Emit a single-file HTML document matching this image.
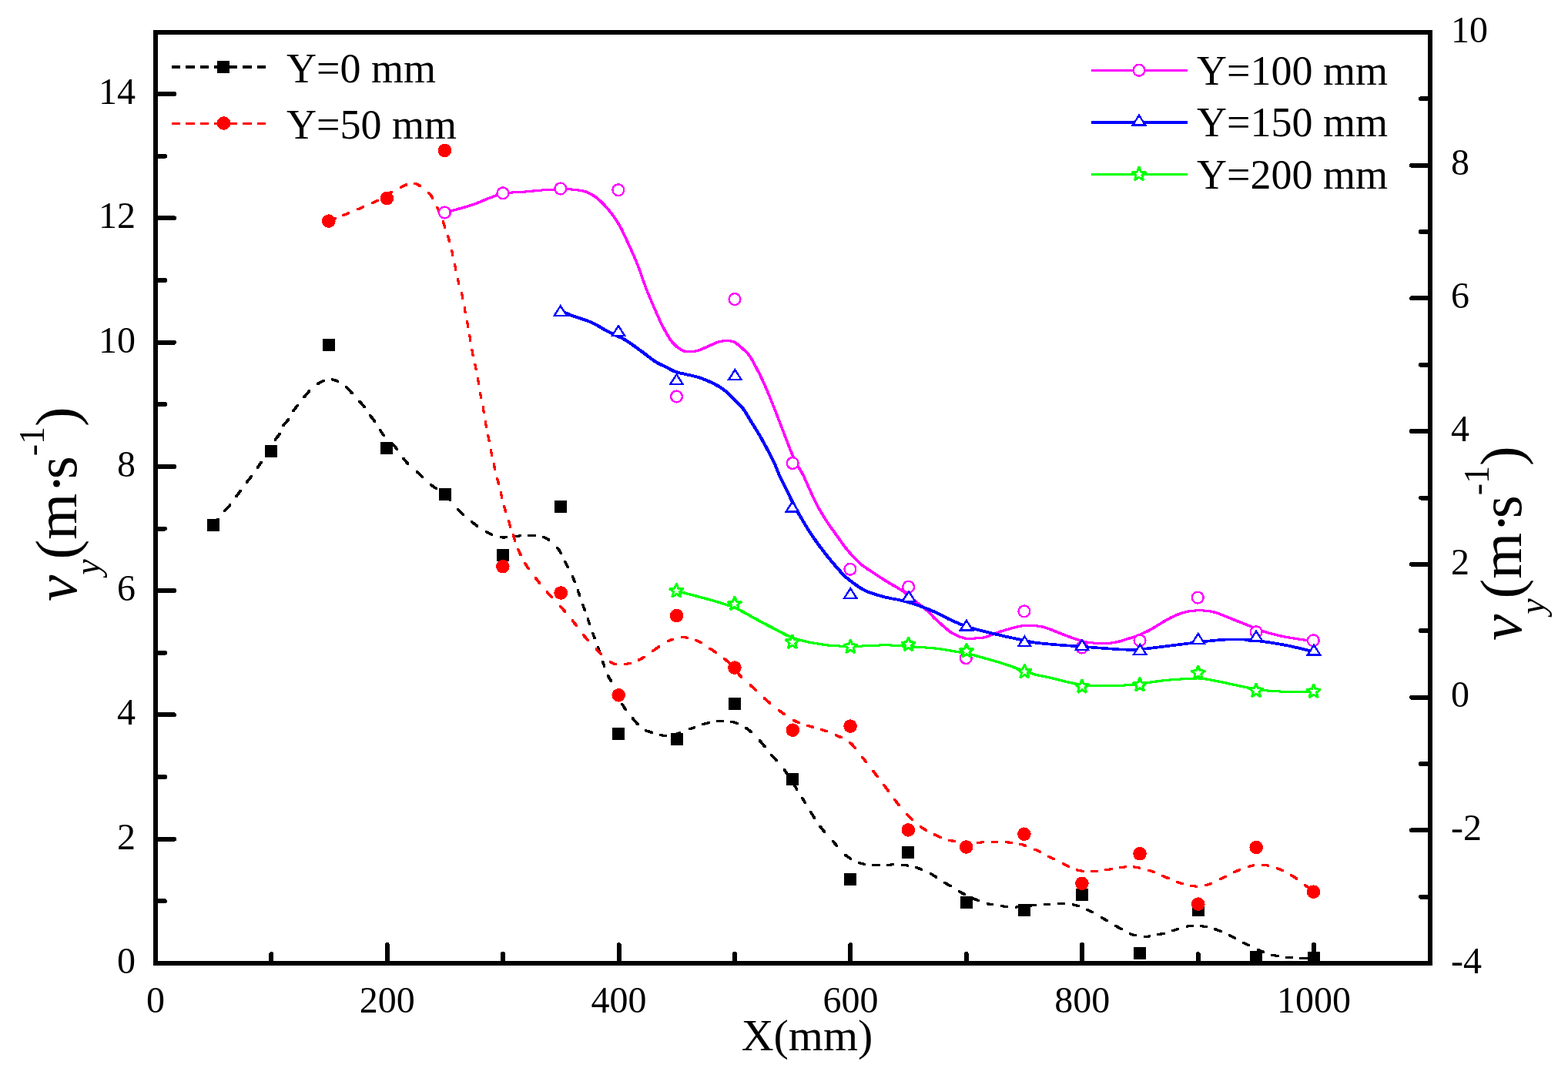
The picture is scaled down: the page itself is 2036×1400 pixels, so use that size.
<!DOCTYPE html>
<html><head><meta charset="utf-8"><title>chart</title>
<style>html,body{margin:0;padding:0;background:#fff;}svg{display:block;}</style></head>
<body><svg width="2036" height="1400" viewBox="0 0 2036 1400">
<rect width="2036" height="1400" fill="#fff"/>
<g stroke="#000" stroke-width="6" fill="none" stroke-linecap="butt" shape-rendering="crispEdges">
<rect x="202" y="42" width="1655" height="1209"/>
<path stroke-linecap="round" d="M202 1170.4h12 M202 1089.7h24 M202 1009.1h12 M202 928.4h24 M202 847.8h12 M202 767.2h24 M202 686.5h12 M202 605.9h24 M202 525.2h12 M202 444.6h24 M202 364.0h12 M202 283.3h24 M202 202.7h12 M202 122.0h24 M1857 1164.6h-12 M1857 1078.3h-24 M1857 991.9h-12 M1857 905.6h-24 M1857 819.2h-12 M1857 732.8h-24 M1857 646.5h-12 M1857 560.1h-24 M1857 473.8h-12 M1857 387.4h-24 M1857 301.0h-12 M1857 214.7h-24 M1857 128.3h-12 M352.4 1251v-12 M502.8 1251v-24 M653.2 1251v-12 M803.6 1251v-24 M954.0 1251v-12 M1104.4 1251v-24 M1254.8 1251v-12 M1405.2 1251v-24 M1555.6 1251v-12 M1706.0 1251v-24"/>
</g>
<g font-family="'Liberation Serif','Times New Roman',serif" font-size="48" fill="#000">
<text x="176" y="1264.0" text-anchor="end">0</text>
<text x="176" y="1102.7" text-anchor="end">2</text>
<text x="176" y="941.4" text-anchor="end">4</text>
<text x="176" y="780.2" text-anchor="end">6</text>
<text x="176" y="618.9" text-anchor="end">8</text>
<text x="176" y="457.6" text-anchor="end">10</text>
<text x="176" y="296.3" text-anchor="end">12</text>
<text x="176" y="135.0" text-anchor="end">14</text>
<text x="202.0" y="1315" text-anchor="middle">0</text>
<text x="502.8" y="1315" text-anchor="middle">200</text>
<text x="803.6" y="1315" text-anchor="middle">400</text>
<text x="1104.4" y="1315" text-anchor="middle">600</text>
<text x="1405.2" y="1315" text-anchor="middle">800</text>
<text x="1706.0" y="1315" text-anchor="middle">1000</text>
<text x="1884" y="1263.7">-4</text>
<text x="1884" y="1091.0">-2</text>
<text x="1884" y="918.3">0</text>
<text x="1884" y="745.5">2</text>
<text x="1884" y="572.8">4</text>
<text x="1884" y="400.1">6</text>
<text x="1884" y="227.4">8</text>
<text x="1884" y="54.7">10</text>
</g>
<text font-family="'Liberation Serif','Times New Roman',serif" font-size="58" x="1048" y="1364" text-anchor="middle">X(mm)</text>
<text font-family="'Liberation Serif','Times New Roman',serif" font-size="77" transform="translate(99 781) rotate(-90)" x="0" y="0"><tspan font-style="italic">v</tspan><tspan font-style="italic" font-size="46" dy="30">y</tspan><tspan dy="-30">(m·</tspan><tspan dx="-7">s</tspan><tspan font-size="46" dy="-42">-1</tspan><tspan dy="42">)</tspan></text>
<text font-family="'Liberation Serif','Times New Roman',serif" font-size="77" transform="translate(1975 832) rotate(-90)" x="0" y="0"><tspan font-style="italic">v</tspan><tspan font-style="italic" font-size="46" dy="30">y</tspan><tspan dy="-30">(m·</tspan><tspan dx="-7">s</tspan><tspan font-size="46" dy="-42">-1</tspan><tspan dy="42">)</tspan></text>
<defs><filter id="dl" filterUnits="userSpaceOnUse" x="0" y="0" width="2036" height="1400"><feMorphology operator="dilate" radius="1"/></filter></defs>
<path d="M277.0 682.5 L277.3 682.1 L278.5 680.6 L280.0 678.6 L281.7 676.3 L283.6 673.9 M291.7 663.7 L292.1 663.2 L293.3 661.9 L294.4 660.7 L295.4 659.6 L296.4 658.5 L297.3 657.5 L298.3 656.4 L299.2 655.3 M306.5 645.4 L306.8 644.9 L307.8 643.6 L308.7 642.2 L309.7 640.8 L310.7 639.4 L311.6 638.1 L312.5 636.8 M319.9 626.8 L320.2 626.5 L321.1 625.3 L322.1 624.1 L323.0 622.9 L324.0 621.7 L324.9 620.5 L325.8 619.4 L326.7 618.2 M334.0 608.1 L334.3 607.8 L335.0 606.6 L335.7 605.5 L336.4 604.3 L337.2 603.1 L338.2 601.7 L339.3 600.3 L339.7 599.8 M349.3 589.6 L349.8 589.0 L351.2 587.2 L352.3 585.4 L353.2 583.6 L353.8 581.9 L354.0 581.3 M357.1 571.2 L357.4 570.8 L358.2 569.7 L359.0 568.7 L359.9 567.7 L360.8 566.8 L361.6 565.8 L362.3 564.7 L363.0 563.6 L363.4 562.8 M367.8 552.8 L368.1 552.4 L369.0 551.2 L370.0 550.1 L371.1 548.9 L372.1 547.7 L373.1 546.6 L374.0 545.4 L374.9 544.2 M380.5 534.3 L380.7 533.9 L381.5 532.8 L382.3 531.7 L383.1 530.7 L383.9 529.7 L384.7 528.6 L385.5 527.5 L386.4 526.4 L386.7 526.0 M394.7 516.0 L395.0 515.6 L396.1 514.3 L397.1 513.0 L398.2 511.8 L399.3 510.5 L400.4 509.3 L401.4 508.1 L402.1 507.4 M412.2 498.8 L412.6 498.6 L413.8 497.8 L415.0 497.1 L416.3 496.4 L417.5 495.7 L418.7 495.1 L419.9 494.6 L420.7 494.3 M430.9 492.8 L431.3 492.8 L432.5 493.1 L433.7 493.4 L434.9 493.8 L436.1 494.2 L437.4 494.7 L438.6 495.2 L439.0 495.4 M449.3 502.4 L449.7 502.8 L450.8 503.8 L451.8 504.8 L452.9 505.9 L453.9 507.0 L454.9 508.1 L455.9 509.3 L457.0 510.4 L457.4 510.8 M466.4 520.7 L466.7 521.1 L467.7 522.2 L468.6 523.3 L469.6 524.3 L470.5 525.3 L471.4 526.4 L472.3 527.5 L473.2 528.6 L473.5 529.0 M480.2 539.0 L480.5 539.4 L481.4 540.6 L482.3 541.7 L483.3 542.9 L484.2 544.1 L485.2 545.3 L486.1 546.5 L486.7 547.4 M493.1 557.8 L493.3 558.2 L494.1 559.3 L494.7 560.3 L495.3 561.2 L495.8 562.0 L496.4 562.9 L497.1 563.8 L497.9 564.8 L498.9 566.0 M509.3 576.1 L509.9 576.7 L511.7 578.7 L513.5 580.7 L515.1 582.8 L516.2 584.3 M523.4 594.7 L524.0 595.5 L525.8 597.8 L527.8 600.1 L530.0 602.3 M540.7 612.3 L541.5 612.9 L543.8 615.0 L546.0 617.1 L548.2 619.1 L549.0 619.8 M559.2 629.1 L559.9 629.7 L562.0 631.4 L564.0 632.9 L566.0 634.2 L567.2 635.0 M577.8 642.4 L578.5 643.1 L580.9 645.5 L583.3 648.2 L585.0 650.1 M594.3 660.9 L595.1 661.8 L597.5 664.3 L599.7 666.5 L601.9 668.6 M612.4 677.6 L613.1 678.1 L615.4 679.9 L617.7 681.6 L620.1 683.4 M630.8 690.4 L631.6 690.9 L634.0 692.1 L636.3 693.2 L638.6 694.2 L639.3 694.5 M649.8 697.6 L650.6 697.7 L652.9 698.0 L655.3 698.0 L657.7 697.9 M668.2 696.5 L669.0 696.4 L671.4 696.2 L673.8 696.0 L676.2 695.8 M686.4 695.2 L687.1 695.2 L689.4 695.3 L691.7 695.4 L694.0 695.5 L694.7 695.5 M704.9 697.2 L705.7 697.5 L707.8 698.4 L710.0 699.6 L712.2 700.9 L712.9 701.4 M723.3 710.8 L723.9 711.6 L725.6 713.8 L727.2 716.3 L728.7 719.0 M733.6 729.3 L734.0 730.2 L735.3 732.8 L736.5 735.2 L737.7 737.4 M743.0 747.7 L743.3 748.4 L744.3 750.7 L745.3 753.1 L746.3 755.6 M750.0 766.0 L750.3 766.8 L751.2 769.4 L752.1 771.8 L752.9 774.2 M756.6 784.8 L756.9 785.5 L757.7 787.8 L758.5 790.1 L759.3 792.3 L759.5 793.1 M763.0 803.0 L763.3 803.7 L764.1 806.0 L764.9 808.3 L765.7 810.5 L765.9 811.3 M769.7 821.9 L769.9 822.7 L770.7 824.9 L771.5 827.2 L772.4 829.5 M776.2 840.3 L776.5 841.1 L777.3 843.3 L778.0 845.4 L778.7 847.5 L778.9 848.1 M782.3 858.6 L782.6 859.3 L783.3 861.4 L784.1 863.6 L784.9 865.9 L785.2 866.6 M789.3 877.1 L789.6 877.7 L790.4 879.2 L791.1 880.6 L791.9 881.8 L792.7 883.0 L793.5 884.2 L794.3 885.4 M799.8 895.8 L800.2 896.5 L801.1 898.4 L802.1 900.4 L802.9 902.2 L803.7 903.9 M807.6 913.9 L807.9 914.5 L809.0 916.3 L810.3 918.4 L811.9 920.6 L813.0 922.1 M821.2 932.5 L821.7 933.2 L823.3 935.2 L825.0 937.1 L826.7 939.1 L828.4 940.9 M838.4 948.9 L838.7 948.9 L839.6 949.1 L840.9 949.4 L842.5 950.0 L844.5 950.7 L846.7 951.4 M857.3 954.6 L858.1 954.8 L860.3 955.1 L862.3 955.3 L864.3 955.3 L864.9 955.4 M875.7 953.9 L876.5 953.7 L879.0 953.0 L881.7 952.1 L883.5 951.5 M894.5 947.3 L895.4 947.0 L897.9 946.1 L900.3 945.2 L901.9 944.7 M912.3 940.9 L913.0 940.7 L915.3 940.0 L917.6 939.4 L919.9 938.8 L920.6 938.6 M931.3 936.5 L932.1 936.4 L934.4 936.3 L936.6 936.2 L938.9 936.1 M949.5 937.2 L950.3 937.4 L952.6 938.0 L954.9 938.7 L957.2 939.6 L957.9 939.9 M967.8 945.0 L968.6 945.4 L970.7 946.9 L972.8 948.5 L974.9 950.3 L976.3 951.5 M986.2 961.6 L986.9 962.3 L988.8 964.5 L990.7 966.8 L992.6 969.1 L993.2 969.9 M1001.4 980.0 L1002.0 980.7 L1004.0 982.9 L1005.9 985.1 L1007.9 987.2 L1008.6 988.0 M1017.9 998.9 L1018.4 999.7 L1020.1 1002.1 L1021.7 1004.5 L1023.3 1006.9 M1029.8 1017.1 L1030.3 1017.9 L1031.6 1020.0 L1032.9 1022.1 L1034.2 1024.2 L1035.1 1025.5 M1041.5 1036.1 L1042.0 1036.9 L1043.6 1039.6 L1045.2 1042.3 L1045.8 1043.2 M1052.4 1054.1 L1052.9 1055.0 L1054.5 1057.5 L1056.1 1060.0 L1057.6 1062.5 M1064.6 1072.8 L1065.1 1073.5 L1066.9 1075.8 L1068.7 1078.0 L1070.5 1080.1 L1071.1 1080.8 M1080.7 1091.4 L1081.3 1092.1 L1083.3 1094.5 L1085.3 1096.9 L1087.2 1099.3 M1096.8 1109.6 L1097.5 1110.2 L1099.7 1111.9 L1101.9 1113.5 L1104.2 1115.0 L1104.9 1115.4 M1115.0 1120.3 L1115.8 1120.6 L1118.2 1121.3 L1120.5 1121.9 L1123.0 1122.4 M1133.5 1123.5 L1134.3 1123.6 L1136.7 1123.7 L1139.2 1123.7 L1141.6 1123.7 M1152.1 1123.1 L1152.8 1123.1 L1155.1 1123.1 L1157.3 1123.0 L1159.4 1122.9 L1160.1 1122.9 M1170.7 1123.1 L1171.5 1123.2 L1173.8 1123.4 L1176.2 1123.8 L1178.6 1124.1 M1189.2 1126.6 L1190.0 1126.8 L1192.4 1127.6 L1194.9 1128.5 L1197.3 1129.5 M1207.8 1134.5 L1208.5 1134.9 L1210.8 1136.1 L1213.0 1137.4 L1215.1 1138.7 L1215.8 1139.1 M1226.4 1146.0 L1227.2 1146.5 L1229.5 1147.9 L1231.9 1149.5 L1234.4 1151.0 M1244.9 1157.5 L1245.7 1157.9 L1248.0 1159.2 L1250.3 1160.4 L1252.6 1161.6 M1263.0 1166.5 L1263.7 1166.8 L1265.8 1167.7 L1267.8 1168.6 L1269.7 1169.5 L1271.0 1170.1 M1281.6 1173.6 L1282.4 1173.8 L1285.0 1174.3 L1287.6 1174.8 L1289.4 1175.1 M1300.1 1176.6 L1300.9 1176.7 L1303.3 1177.0 L1305.7 1177.3 L1308.1 1177.5 M1318.9 1178.0 L1319.7 1178.0 L1322.1 1177.9 L1324.4 1177.7 L1326.8 1177.5 M1337.0 1176.2 L1337.8 1176.1 L1340.2 1175.9 L1342.5 1175.6 L1344.9 1175.4 M1355.8 1174.5 L1356.6 1174.5 L1359.0 1174.3 L1361.4 1174.1 L1363.8 1174.0 M1374.0 1173.6 L1374.8 1173.6 L1377.1 1173.6 L1379.3 1173.6 L1381.4 1173.7 L1382.2 1173.7 M1392.9 1174.7 L1393.6 1174.9 L1395.8 1175.4 L1398.1 1176.1 L1400.3 1176.8 L1401.0 1177.1 M1410.9 1181.2 L1411.7 1181.5 L1414.0 1182.6 L1416.3 1183.8 L1418.7 1185.0 L1419.5 1185.5 M1429.7 1191.3 L1430.5 1191.7 L1432.9 1193.0 L1435.2 1194.4 L1437.6 1195.8 M1447.9 1201.8 L1448.6 1202.3 L1450.9 1203.6 L1453.2 1205.0 L1455.5 1206.4 L1456.3 1206.9 M1466.7 1212.6 L1467.5 1212.9 L1469.7 1213.7 L1472.0 1214.4 L1474.2 1214.9 L1475.0 1215.1 M1485.5 1216.3 L1486.3 1216.3 L1488.6 1216.2 L1490.9 1216.1 L1493.3 1215.8 M1503.6 1213.9 L1504.4 1213.7 L1506.8 1213.2 L1509.1 1212.6 L1511.5 1212.0 M1522.4 1208.7 L1523.2 1208.5 L1525.6 1207.8 L1527.9 1207.0 L1530.3 1206.2 M1540.6 1203.3 L1541.3 1203.1 L1543.6 1202.8 L1545.9 1202.5 L1548.2 1202.3 L1549.0 1202.3 M1559.4 1202.6 L1560.2 1202.7 L1562.4 1203.0 L1564.7 1203.3 L1566.9 1203.8 M1577.4 1206.6 L1578.2 1206.9 L1580.5 1207.7 L1582.9 1208.6 L1585.2 1209.6 L1586.0 1210.0 M1596.3 1214.8 L1597.1 1215.2 L1599.5 1216.4 L1601.8 1217.6 L1604.2 1218.8 M1614.4 1224.3 L1615.2 1224.7 L1617.6 1225.9 L1619.9 1227.1 L1622.3 1228.3 M1633.3 1233.4 L1634.0 1233.8 L1636.3 1234.7 L1638.6 1235.7 L1640.9 1236.5 M1651.4 1240.0 L1652.1 1240.2 L1654.4 1240.8 L1656.7 1241.2 L1658.9 1241.6 L1659.7 1241.7 M1670.2 1243.0 L1671.0 1243.1 L1673.3 1243.3 L1675.7 1243.5 L1678.1 1243.7 M1688.3 1244.2 L1689.1 1244.3 L1691.3 1244.4 L1693.6 1244.4 L1696.0 1244.4 L1696.7 1244.5" fill="none" stroke="#000" stroke-width="1" shape-rendering="crispEdges" filter="url(#dl)"/>
<g fill="#000" shape-rendering="crispEdges"><rect x="269" y="674" width="16" height="16"/><rect x="344" y="578" width="16" height="16"/><rect x="419" y="440" width="16" height="16"/><rect x="494" y="574" width="16" height="16"/><rect x="570" y="634" width="16" height="16"/><rect x="645" y="713" width="16" height="16"/><rect x="720" y="650" width="16" height="16"/><rect x="795" y="945" width="16" height="16"/><rect x="871" y="952" width="16" height="16"/><rect x="946" y="906" width="16" height="16"/><rect x="1021" y="1004" width="16" height="16"/><rect x="1096" y="1134" width="16" height="16"/><rect x="1171" y="1099" width="16" height="16"/><rect x="1247" y="1164" width="16" height="16"/><rect x="1322" y="1174" width="16" height="16"/><rect x="1397" y="1154" width="16" height="16"/><rect x="1472" y="1230" width="16" height="16"/><rect x="1548" y="1174" width="16" height="16"/><rect x="1623" y="1235" width="16" height="16"/><rect x="1698" y="1236" width="16" height="16"/></g>
<path d="M426.8 287.0 L427.3 286.8 L429.4 286.0 L432.0 285.0 L434.0 284.2 L435.6 283.6 M445.6 279.8 L446.1 279.5 L448.1 278.7 L450.9 277.6 L453.4 276.6 M464.4 272.0 L465.2 271.6 L467.5 270.7 L469.8 269.7 L472.2 268.6 M482.4 264.2 L483.1 263.9 L485.1 262.9 L487.0 262.0 L488.6 261.2 L490.0 260.4 L490.9 259.9 M501.2 253.5 L501.7 253.2 L503.1 252.3 L504.6 251.4 L506.2 250.5 L507.9 249.6 L509.6 248.7 M520.0 243.3 L520.7 243.0 L522.6 242.1 L524.4 241.2 L526.0 240.6 L527.5 240.0 L528.0 239.8 M537.8 237.9 L538.1 238.0 L539.0 238.1 L539.9 238.4 L540.9 238.8 L542.1 239.5 L543.5 240.3 L545.2 241.4 L546.4 242.2 M556.3 250.1 L556.9 250.8 L558.5 252.6 L560.0 254.6 L561.3 256.8 L562.2 258.2 M567.6 269.2 L568.0 270.0 L569.1 272.4 L570.2 274.9 L570.9 276.6 M575.1 287.6 L575.4 288.4 L576.3 290.8 L577.1 293.1 L577.9 295.4 M581.3 305.7 L581.5 306.5 L582.2 308.8 L582.9 311.1 L583.6 313.5 L583.8 314.3 M586.4 324.6 L586.6 325.4 L587.2 327.8 L587.7 330.2 L588.2 332.5 M590.3 342.8 L590.5 343.6 L591.0 346.0 L591.5 348.4 L592.0 350.8 M594.3 361.9 L594.5 362.7 L595.0 365.0 L595.6 367.3 L596.2 369.5 M599.2 380.0 L599.4 380.7 L600.0 383.0 L600.5 385.3 L601.0 387.7 M602.9 398.9 L603.1 399.7 L603.5 402.0 L603.9 404.3 L604.4 406.5 M606.5 416.9 L606.7 417.7 L607.1 420.0 L607.5 422.4 L607.9 424.7 M609.7 435.3 L609.9 436.1 L610.3 438.5 L610.7 440.9 L611.1 443.4 M612.8 453.9 L612.9 454.7 L613.3 457.1 L613.7 459.4 L614.2 461.6 L614.4 462.3 M616.8 472.7 L616.9 473.5 L617.4 475.7 L617.9 478.0 L618.3 480.4 M620.3 490.9 L620.4 491.8 L620.9 494.2 L621.3 496.6 L621.7 499.1 M623.5 509.6 L623.6 510.4 L624.0 512.8 L624.4 515.1 L624.8 517.3 M626.8 527.7 L627.0 528.4 L627.4 530.6 L627.8 532.9 L628.2 535.3 L628.3 536.1 M630.0 546.6 L630.1 547.5 L630.6 549.9 L631.0 552.3 L631.5 554.7 M633.6 565.2 L633.8 566.0 L634.3 568.4 L634.8 570.8 L635.2 573.2 M637.1 583.7 L637.3 584.5 L637.7 586.9 L638.2 589.3 L638.7 591.7 M641.0 602.3 L641.2 603.1 L641.8 605.5 L642.3 607.8 L642.9 610.1 M645.6 620.8 L645.7 621.5 L646.3 623.6 L646.8 625.7 L647.3 627.8 L647.5 628.6 M650.1 639.3 L650.3 640.0 L650.8 642.1 L651.3 644.2 L651.8 646.1 L652.1 647.4 M654.6 657.4 L654.8 658.2 L655.5 660.6 L656.2 663.2 L656.8 665.1 M660.4 676.5 L660.7 677.4 L661.5 680.1 L662.3 682.7 L662.9 684.4 M666.1 694.2 L666.3 695.0 L667.1 697.3 L667.9 699.6 L668.7 701.9 L669.0 702.6 M672.8 713.2 L673.1 713.9 L674.0 716.0 L674.9 718.2 L676.0 720.5 L676.4 721.2 M681.6 731.2 L682.0 732.0 L683.4 734.2 L684.8 736.4 L686.2 738.6 L686.7 739.3 M694.8 749.9 L695.4 750.6 L697.1 752.8 L698.9 755.0 L700.6 757.3 L701.2 758.0 M710.1 768.7 L710.8 769.5 L712.8 771.8 L714.9 774.0 L717.0 776.3 M727.2 787.0 L727.9 787.7 L730.0 790.1 L732.1 792.5 L734.1 794.9 M742.9 805.4 L743.5 806.2 L745.4 808.6 L747.2 810.9 L749.0 813.3 M756.9 823.8 L757.5 824.6 L759.3 826.8 L761.2 829.0 L763.2 831.2 L763.8 832.0 M774.0 842.6 L774.6 843.3 L776.6 845.4 L778.7 847.4 L780.7 849.5 L781.4 850.2 M792.0 859.4 L792.7 859.8 L794.4 860.8 L796.2 861.7 L797.9 862.5 L799.6 863.0 L800.2 863.2 M810.8 863.0 L811.8 862.8 L813.8 862.4 L815.4 862.0 L816.9 861.5 L818.5 861.1 M829.1 857.2 L830.0 856.8 L832.5 855.6 L834.9 854.2 L837.2 852.7 M847.4 845.5 L848.2 845.0 L850.5 843.5 L852.8 841.9 L855.0 840.3 L855.8 839.8 M866.4 833.2 L867.2 832.8 L869.4 831.8 L871.7 830.9 L874.0 830.1 M884.6 827.8 L885.4 827.8 L887.6 827.8 L889.9 827.9 L892.2 828.2 L893.0 828.3 M902.8 831.0 L903.6 831.3 L905.8 832.3 L908.0 833.4 L910.3 834.7 L911.0 835.1 M921.5 841.9 L922.2 842.4 L924.5 843.9 L926.9 845.5 L929.2 847.2 L930.0 847.7 M940.3 855.4 L941.0 855.9 L943.1 857.6 L945.2 859.3 L947.2 861.0 L948.5 862.1 M956.7 871.6 L956.8 871.9 L957.2 872.8 L957.9 873.9 L958.9 875.2 L960.3 876.7 L961.9 878.4 L963.1 879.5 M973.9 889.4 L974.6 890.0 L976.8 892.1 L979.0 894.2 L981.3 896.4 L982.1 897.1 M992.1 906.5 L992.9 907.2 L995.0 909.1 L997.1 910.9 L999.0 912.6 L1000.3 913.7 M1010.8 922.1 L1011.6 922.7 L1014.2 924.6 L1016.9 926.6 L1018.7 927.9 M1029.7 935.1 L1030.6 935.5 L1033.0 936.8 L1035.4 937.9 L1037.7 938.8 M1048.1 942.0 L1048.8 942.3 L1051.1 943.0 L1053.4 943.7 L1055.7 944.3 M1066.3 947.4 L1067.1 947.6 L1069.5 948.4 L1071.9 949.3 L1074.3 950.2 M1084.7 954.3 L1085.5 954.7 L1087.8 955.8 L1090.0 956.8 L1092.2 957.7 L1092.9 958.0 M1103.6 964.4 L1104.3 965.0 L1106.5 967.0 L1108.6 969.4 L1110.8 971.9 M1119.4 982.8 L1120.0 983.7 L1122.1 986.2 L1124.0 988.7 L1125.3 990.3 M1133.4 1000.7 L1134.0 1001.5 L1135.8 1003.8 L1137.6 1006.2 L1139.4 1008.5 L1140.0 1009.2 M1147.4 1019.1 L1148.0 1019.8 L1149.7 1022.1 L1151.5 1024.5 L1153.2 1026.9 L1153.8 1027.7 M1161.3 1038.1 L1161.9 1038.9 L1163.7 1041.2 L1165.5 1043.5 L1167.3 1045.8 M1176.7 1056.6 L1177.3 1057.3 L1179.3 1059.3 L1181.3 1061.3 L1183.4 1063.3 L1184.8 1064.6 M1194.9 1073.2 L1195.6 1073.8 L1197.9 1075.4 L1200.3 1076.9 L1202.7 1078.3 M1213.3 1083.9 L1214.1 1084.3 L1216.5 1085.4 L1218.8 1086.4 L1221.0 1087.3 L1221.8 1087.6 M1232.3 1091.0 L1233.1 1091.2 L1235.5 1091.8 L1238.0 1092.3 L1239.7 1092.7 M1250.8 1094.3 L1251.7 1094.4 L1254.3 1094.6 L1257.0 1094.7 L1258.8 1094.7 M1269.0 1094.3 L1269.8 1094.2 L1272.5 1094.1 L1274.9 1093.9 L1277.2 1093.8 M1287.6 1093.5 L1288.2 1093.4 L1290.1 1093.4 L1292.1 1093.4 L1294.0 1093.4 L1295.3 1093.4 M1305.8 1093.7 L1306.5 1093.7 L1308.7 1093.9 L1310.9 1094.2 L1313.2 1094.4 L1314.0 1094.5 M1324.4 1096.2 L1325.2 1096.4 L1327.6 1097.0 L1329.9 1097.8 L1332.3 1098.6 M1342.6 1102.7 L1343.4 1103.0 L1345.7 1104.0 L1348.0 1105.1 L1350.2 1106.3 L1351.0 1106.7 M1361.5 1112.3 L1362.2 1112.7 L1364.5 1113.9 L1366.9 1115.1 L1369.2 1116.3 M1380.2 1121.8 L1381.0 1122.1 L1383.4 1123.2 L1385.7 1124.4 L1388.1 1125.5 M1398.4 1129.7 L1399.2 1130.0 L1401.5 1130.6 L1403.7 1131.0 L1406.0 1131.3 L1406.7 1131.4 M1417.2 1131.5 L1417.9 1131.5 L1420.2 1131.5 L1422.6 1131.3 L1425.0 1131.1 M1435.3 1129.9 L1436.1 1129.8 L1438.4 1129.5 L1440.7 1129.1 L1442.9 1128.7 L1443.7 1128.5 M1454.2 1126.6 L1454.9 1126.5 L1457.2 1126.3 L1459.4 1126.1 L1461.7 1125.9 M1472.2 1125.9 L1473.0 1126.0 L1475.4 1126.3 L1477.8 1126.7 L1480.3 1127.2 M1491.0 1130.0 L1491.8 1130.3 L1494.2 1131.1 L1496.5 1131.9 L1498.7 1132.7 M1509.1 1137.2 L1509.9 1137.6 L1512.2 1138.5 L1514.5 1139.5 L1516.9 1140.6 L1517.7 1140.9 M1528.0 1145.3 L1528.8 1145.6 L1531.0 1146.4 L1533.2 1147.1 L1535.4 1147.9 L1536.1 1148.1 M1546.1 1150.6 L1546.8 1150.7 L1549.2 1150.9 L1551.6 1151.0 L1554.0 1151.0 M1564.8 1149.7 L1565.6 1149.6 L1568.0 1149.0 L1570.3 1148.3 L1572.6 1147.4 L1573.3 1147.1 M1583.8 1142.1 L1584.5 1141.8 L1586.8 1140.7 L1589.2 1139.5 L1591.5 1138.3 M1601.8 1133.1 L1602.6 1132.7 L1605.0 1131.7 L1607.3 1130.6 L1609.7 1129.6 M1620.7 1125.5 L1621.5 1125.3 L1623.8 1124.7 L1626.1 1124.2 L1628.3 1123.8 M1638.8 1123.2 L1639.6 1123.2 L1641.9 1123.4 L1644.1 1123.7 L1646.4 1124.1 L1647.1 1124.2 M1657.7 1127.4 L1658.4 1127.7 L1660.7 1128.6 L1663.1 1129.6 L1665.5 1130.7 M1675.7 1136.0 L1676.5 1136.5 L1678.8 1137.9 L1681.1 1139.4 L1683.4 1141.0 L1684.1 1141.5 M1694.1 1149.1 L1694.7 1149.6 L1696.4 1150.9 L1698.1 1152.1 L1699.6 1153.4 L1701.0 1154.5 L1702.3 1155.6 L1702.7 1155.9" fill="none" stroke="#f00" stroke-width="1" shape-rendering="crispEdges" filter="url(#dl)"/>
<g fill="#f00" shape-rendering="crispEdges"><circle cx="426.8" cy="287.1" r="8.8"/><circle cx="502.4" cy="257.6" r="8.8"/><circle cx="577.4" cy="195.4" r="8.8"/><circle cx="652.8" cy="735.7" r="8.8"/><circle cx="728.2" cy="770.0" r="8.8"/><circle cx="803.2" cy="902.8" r="8.8"/><circle cx="878.6" cy="799.6" r="8.8"/><circle cx="953.9" cy="867.1" r="8.8"/><circle cx="1029.3" cy="948.2" r="8.8"/><circle cx="1104.1" cy="943.1" r="8.8"/><circle cx="1179.3" cy="1077.9" r="8.8"/><circle cx="1254.7" cy="1100.0" r="8.8"/><circle cx="1329.9" cy="1083.2" r="8.8"/><circle cx="1404.9" cy="1147.3" r="8.8"/><circle cx="1480.0" cy="1108.8" r="8.8"/><circle cx="1555.8" cy="1174.1" r="8.8"/><circle cx="1631.2" cy="1100.5" r="8.8"/><circle cx="1705.5" cy="1158.2" r="8.8"/></g>
<path d="M577.4 276.0 C578.9 275.6 580.2 275.5 586.4 273.8 C592.5 272.1 606.1 268.5 614.3 265.7 C622.5 262.9 628.9 259.6 635.7 257.1 C642.5 254.7 647.3 252.3 655.0 251.0 C662.7 249.7 673.9 249.7 682.0 249.0 C690.1 248.3 697.1 247.5 703.6 247.0 C710.1 246.5 715.4 246.2 720.7 246.0 C726.1 245.8 729.7 245.3 735.7 245.6 C741.8 245.9 751.3 246.7 757.0 248.0 C762.7 249.3 765.7 250.9 770.0 253.6 C774.3 256.3 778.5 260.0 782.8 264.3 C787.1 268.6 791.8 274.0 795.7 279.3 C799.6 284.6 802.9 289.8 806.4 296.4 C809.9 303.0 813.4 311.1 817.0 319.0 C820.6 326.9 824.2 334.5 827.8 343.6 C831.4 352.7 835.0 364.3 838.6 373.6 C842.2 382.9 845.7 391.1 849.3 399.3 C852.9 407.5 856.1 415.3 860.0 422.8 C863.9 430.3 868.5 438.9 872.8 444.3 C877.1 449.7 881.8 452.9 885.7 455.0 C889.6 457.1 892.9 457.0 896.4 457.0 C899.9 457.0 902.8 456.3 907.0 455.0 C911.2 453.7 917.2 450.8 921.4 449.0 C925.6 447.2 928.4 445.4 932.0 444.3 C935.6 443.2 939.3 442.6 942.9 442.6 C946.5 442.6 950.0 442.6 953.6 444.3 C957.2 446.0 961.1 450.0 964.3 452.8 C967.5 455.6 969.9 457.5 972.8 461.4 C975.6 465.3 978.2 470.3 981.4 476.4 C984.6 482.5 988.4 489.9 992.0 497.8 C995.6 505.7 999.2 514.7 1002.8 523.6 C1006.4 532.5 1010.0 542.1 1013.6 551.4 C1017.2 560.7 1021.1 571.2 1024.3 579.3 C1027.5 587.4 1029.9 593.7 1033.0 600.0 C1036.1 606.3 1039.5 610.2 1042.9 617.0 C1046.3 623.8 1050.0 633.2 1053.6 640.7 C1057.2 648.2 1060.7 655.6 1064.3 662.0 C1067.9 668.4 1071.4 673.9 1075.0 679.3 C1078.6 684.7 1082.1 689.3 1085.7 694.3 C1089.3 699.3 1092.9 704.7 1096.4 709.3 C1100.0 713.9 1103.4 718.1 1107.0 722.0 C1110.6 725.9 1114.3 729.8 1117.9 732.8 C1121.5 735.8 1123.2 736.7 1128.6 740.3 C1133.9 743.9 1142.9 749.8 1150.0 754.3 C1157.1 758.8 1166.1 763.4 1171.4 767.0 C1176.7 770.6 1178.4 772.8 1182.0 775.7 C1185.6 778.6 1189.2 781.4 1192.8 784.3 C1196.4 787.1 1200.0 789.6 1203.6 792.8 C1207.2 796.0 1210.7 800.2 1214.3 803.6 C1217.9 807.0 1221.4 810.2 1225.0 813.2 C1228.6 816.2 1232.1 819.5 1235.7 821.8 C1239.3 824.1 1242.9 825.7 1246.4 827.0 C1250.0 828.3 1253.4 829.4 1257.0 829.7 C1260.6 830.0 1264.1 829.1 1267.8 828.8 C1271.5 828.4 1275.6 828.5 1279.3 827.6 C1283.0 826.7 1286.4 824.7 1290.0 823.4 C1293.6 822.1 1297.0 820.8 1300.7 819.6 C1304.4 818.4 1308.3 817.4 1312.0 816.4 C1315.7 815.4 1319.3 814.3 1322.9 813.6 C1326.5 812.9 1330.0 812.3 1333.6 812.1 C1337.2 811.9 1340.7 812.2 1344.3 812.6 C1347.9 813.0 1351.4 813.4 1355.0 814.3 C1358.6 815.2 1362.1 816.8 1365.7 818.1 C1369.3 819.5 1372.9 821.0 1376.4 822.4 C1380.0 823.8 1383.4 825.2 1387.0 826.5 C1390.6 827.8 1394.3 829.1 1397.9 830.3 C1401.5 831.5 1405.0 832.8 1408.6 833.6 C1412.2 834.4 1415.7 834.7 1419.3 835.0 C1422.9 835.3 1426.4 835.2 1430.0 835.3 C1433.6 835.3 1437.1 835.6 1440.7 835.3 C1444.3 835.0 1447.9 834.4 1451.4 833.6 C1455.0 832.8 1458.4 831.4 1462.0 830.3 C1465.6 829.2 1469.2 828.4 1472.8 827.1 C1476.4 825.9 1480.0 824.4 1483.6 822.8 C1487.2 821.2 1490.7 819.5 1494.3 817.5 C1497.9 815.5 1501.4 813.1 1505.0 811.0 C1508.6 808.9 1512.1 806.6 1515.7 804.6 C1519.3 802.6 1522.9 800.8 1526.4 799.3 C1530.0 797.8 1533.4 796.4 1537.0 795.4 C1540.6 794.4 1544.2 793.7 1547.8 793.3 C1551.4 792.9 1555.0 792.9 1558.6 792.9 C1562.2 792.9 1565.7 793.0 1569.3 793.5 C1572.9 794.0 1575.5 794.5 1580.0 796.0 C1584.5 797.5 1591.9 800.7 1596.4 802.5 C1600.9 804.3 1603.4 805.4 1607.0 806.8 C1610.6 808.2 1614.3 809.6 1617.9 811.0 C1621.5 812.4 1625.0 814.0 1628.6 815.4 C1632.2 816.8 1635.7 818.4 1639.3 819.6 C1642.9 820.8 1646.4 821.8 1650.0 822.8 C1653.6 823.8 1657.1 824.6 1660.7 825.4 C1664.3 826.2 1667.9 827.0 1671.4 827.6 C1675.0 828.2 1678.4 828.7 1682.0 829.3 C1685.6 829.9 1688.9 830.6 1692.8 831.0 C1696.7 831.4 1703.2 831.7 1705.3 831.8" fill="none" stroke="#f0f" stroke-width="1" shape-rendering="crispEdges" filter="url(#dl)"/>
<g fill="#fff" stroke="#f0f" stroke-width="2.4" shape-rendering="crispEdges"><circle cx="577.4" cy="276.0" r="7.4"/><circle cx="653.0" cy="250.8" r="7.4"/><circle cx="727.8" cy="245.0" r="7.4"/><circle cx="802.8" cy="246.7" r="7.4"/><circle cx="878.5" cy="515.0" r="7.4"/><circle cx="954.0" cy="388.6" r="7.4"/><circle cx="1029.2" cy="601.5" r="7.4"/><circle cx="1103.9" cy="739.3" r="7.4"/><circle cx="1179.6" cy="762.2" r="7.4"/><circle cx="1254.3" cy="854.6" r="7.4"/><circle cx="1329.9" cy="793.9" r="7.4"/><circle cx="1404.9" cy="841.0" r="7.4"/><circle cx="1480.0" cy="831.8" r="7.4"/><circle cx="1555.3" cy="776.1" r="7.4"/><circle cx="1631.1" cy="820.7" r="7.4"/><circle cx="1705.3" cy="831.8" r="7.4"/></g>
<path d="M727.8 403.0 C729.8 404.0 735.8 407.2 740.0 408.9 C744.2 410.6 747.8 411.4 752.8 413.2 C757.8 415.0 764.3 416.9 770.0 419.6 C775.7 422.3 782.0 426.6 787.0 429.3 C792.0 432.0 795.7 433.6 800.0 435.7 C804.3 437.8 807.1 438.4 812.8 442.0 C818.5 445.6 827.6 452.3 834.0 457.0 C840.4 461.7 846.4 466.8 851.4 470.0 C856.4 473.2 860.0 474.3 864.3 476.4 C868.6 478.5 872.7 481.2 877.0 482.8 C881.3 484.4 885.0 484.8 890.0 486.0 C895.0 487.2 901.8 488.4 907.0 490.0 C912.2 491.6 917.2 493.9 921.4 495.7 C925.6 497.5 928.4 498.9 932.0 501.0 C935.6 503.1 939.3 505.6 942.9 508.6 C946.5 511.7 950.0 515.7 953.6 519.3 C957.2 522.9 960.7 525.4 964.3 530.0 C967.9 534.6 971.4 541.3 975.0 547.0 C978.6 552.7 982.1 558.2 985.7 564.3 C989.3 570.4 993.1 577.4 996.4 583.6 C999.7 589.8 1002.8 595.5 1005.5 601.5 C1008.2 607.5 1010.2 613.5 1012.9 619.3 C1015.5 625.1 1018.2 630.0 1021.4 636.4 C1024.6 642.8 1028.4 651.1 1032.0 657.9 C1035.6 664.7 1039.3 670.9 1042.9 677.0 C1046.5 683.1 1050.0 688.9 1053.6 694.3 C1057.2 699.7 1060.7 704.5 1064.3 709.3 C1067.9 714.1 1071.4 718.8 1075.0 723.2 C1078.6 727.7 1082.1 731.9 1085.7 736.0 C1089.3 740.1 1092.9 744.4 1096.4 747.8 C1100.0 751.2 1103.4 753.7 1107.0 756.4 C1110.6 759.1 1114.3 761.9 1117.9 764.0 C1121.5 766.1 1123.2 767.3 1128.6 769.3 C1133.9 771.2 1142.9 773.9 1150.0 775.7 C1157.1 777.5 1164.3 778.2 1171.4 780.0 C1178.5 781.8 1185.7 783.9 1192.8 786.4 C1199.9 788.9 1207.1 791.8 1214.3 795.0 C1221.5 798.2 1228.6 802.5 1235.7 805.7 C1242.8 808.9 1249.8 811.9 1257.0 814.3 C1264.2 816.7 1271.7 818.3 1279.0 820.2 C1286.3 822.1 1293.7 823.8 1301.0 825.5 C1308.3 827.2 1315.7 828.8 1322.9 830.3 C1330.1 831.8 1337.2 833.5 1344.3 834.6 C1351.4 835.7 1358.6 836.1 1365.7 836.8 C1372.8 837.4 1379.8 838.0 1387.0 838.5 C1394.2 839.0 1401.4 839.5 1408.6 840.0 C1415.8 840.5 1422.9 841.2 1430.0 841.7 C1437.1 842.2 1444.3 842.8 1451.4 843.2 C1458.5 843.6 1465.7 844.1 1472.8 843.9 C1479.9 843.6 1486.2 842.6 1494.3 841.7 C1502.4 840.8 1513.3 839.3 1521.4 838.3 C1529.5 837.3 1535.8 836.6 1542.9 835.7 C1550.1 834.8 1557.2 833.9 1564.3 833.1 C1571.4 832.3 1578.6 831.5 1585.7 831.0 C1592.8 830.5 1599.8 830.2 1607.0 830.3 C1614.2 830.4 1621.4 831.1 1628.6 831.8 C1635.8 832.5 1642.9 833.5 1650.0 834.6 C1657.1 835.7 1664.3 836.9 1671.4 838.3 C1678.5 839.7 1687.1 841.9 1692.8 843.2 C1698.5 844.6 1703.5 845.9 1705.7 846.4" fill="none" stroke="#00f" stroke-width="1.5" shape-rendering="crispEdges" filter="url(#dl)"/>
<g fill="#fff" stroke="#00f" stroke-width="2.4" stroke-linejoin="miter" shape-rendering="crispEdges"><polygon points="727.8,397.2 735.9,409.9 719.7,409.9"/><polygon points="803.0,423.2 811.1,435.9 794.9,435.9"/><polygon points="878.5,486.2 886.6,498.9 870.4,498.9"/><polygon points="954.4,480.2 962.5,492.9 946.3,492.9"/><polygon points="1028.9,651.7 1037.0,664.4 1020.8,664.4"/><polygon points="1104.3,764.2 1112.4,776.9 1096.2,776.9"/><polygon points="1180.0,768.0 1188.1,780.7 1171.9,780.7"/><polygon points="1255.0,805.8 1263.1,818.5 1246.9,818.5"/><polygon points="1330.4,826.5 1338.5,839.2 1322.3,839.2"/><polygon points="1405.0,831.2 1413.1,843.9 1396.9,843.9"/><polygon points="1480.3,837.2 1488.4,849.9 1472.2,849.9"/><polygon points="1555.8,823.0 1563.9,835.7 1547.7,835.7"/><polygon points="1631.1,819.7 1639.2,832.4 1623.0,832.4"/><polygon points="1706.1,837.7 1714.2,850.4 1698.0,850.4"/></g>
<path d="M878.3 767.1 C879.8 767.5 882.4 768.4 887.0 769.6 C891.6 770.9 899.0 772.8 905.7 774.6 C912.4 776.4 920.6 778.5 927.0 780.4 C933.4 782.2 939.8 784.3 944.3 785.7 C948.8 787.1 949.6 787.0 953.9 789.0 C958.2 791.0 963.8 794.1 970.0 797.5 C976.2 800.9 984.4 805.6 991.4 809.3 C998.4 813.0 1006.7 817.2 1011.7 819.8 C1016.7 822.4 1018.0 823.4 1021.4 825.0 C1024.8 826.6 1028.1 828.0 1032.0 829.3 C1035.9 830.6 1041.0 831.8 1045.0 832.8 C1049.0 833.8 1050.4 834.1 1055.7 835.0 C1061.0 835.9 1069.8 837.5 1077.0 838.2 C1084.2 838.9 1091.4 839.2 1098.6 839.3 C1105.8 839.4 1111.4 839.2 1120.0 839.0 C1128.6 838.8 1141.4 837.8 1150.0 837.8 C1158.6 837.8 1164.3 838.6 1171.4 839.0 C1178.5 839.4 1185.7 839.9 1192.8 840.4 C1199.9 840.9 1207.1 841.2 1214.3 842.0 C1221.5 842.8 1228.6 844.1 1235.7 845.3 C1242.8 846.5 1249.8 847.4 1257.0 849.0 C1264.2 850.6 1271.6 852.9 1279.0 855.0 C1286.4 857.1 1294.1 859.1 1301.4 861.4 C1308.7 863.7 1315.8 866.5 1322.9 868.9 C1330.1 871.3 1337.2 874.0 1344.3 876.0 C1351.4 878.0 1358.6 879.0 1365.7 880.7 C1372.8 882.4 1379.8 884.5 1387.0 886.0 C1394.2 887.5 1401.4 889.1 1408.6 889.9 C1415.8 890.7 1422.9 890.7 1430.0 890.8 C1437.1 890.9 1444.3 890.5 1451.4 890.3 C1458.5 890.0 1465.7 890.0 1472.8 889.3 C1479.9 888.6 1487.1 887.0 1494.3 886.0 C1501.5 885.0 1508.6 884.0 1515.7 883.3 C1522.8 882.6 1529.8 882.2 1537.0 881.8 C1544.2 881.4 1551.4 880.6 1558.6 881.1 C1565.8 881.6 1571.9 883.1 1580.0 884.6 C1588.1 886.1 1598.9 888.6 1607.0 890.3 C1615.1 892.0 1621.4 893.4 1628.6 894.6 C1635.8 895.8 1642.9 896.8 1650.0 897.4 C1657.1 898.0 1664.3 898.0 1671.4 898.3 C1678.5 898.5 1687.1 898.8 1692.8 898.9 C1698.5 899.0 1703.5 898.9 1705.7 898.9" fill="none" stroke="#0f0" stroke-width="1" shape-rendering="crispEdges" filter="url(#dl)"/>
<g fill="#fff" stroke="#0f0" stroke-width="3" stroke-linejoin="bevel" shape-rendering="crispEdges"><polygon points="878.4,757.9 880.8,764.3 887.5,764.5 882.2,768.7 884.0,775.3 878.4,771.5 872.8,775.3 874.6,768.7 869.3,764.5 876.0,764.3"/><polygon points="953.9,774.7 956.3,781.1 963.0,781.3 957.7,785.5 959.5,792.1 953.9,788.3 948.3,792.1 950.1,785.5 944.8,781.3 951.5,781.1"/><polygon points="1028.9,824.4 1031.3,830.8 1038.0,831.0 1032.7,835.2 1034.5,841.8 1028.9,838.0 1023.3,841.8 1025.1,835.2 1019.8,831.0 1026.5,830.8"/><polygon points="1104.3,830.5 1106.7,836.9 1113.4,837.1 1108.1,841.3 1109.9,847.9 1104.3,844.1 1098.7,847.9 1100.5,841.3 1095.2,837.1 1101.9,836.9"/><polygon points="1179.6,827.5 1182.0,833.9 1188.7,834.1 1183.4,838.3 1185.2,844.9 1179.6,841.1 1174.0,844.9 1175.8,838.3 1170.5,834.1 1177.2,833.9"/><polygon points="1255.0,836.0 1257.4,842.4 1264.1,842.6 1258.8,846.8 1260.6,853.4 1255.0,849.6 1249.4,853.4 1251.2,846.8 1245.9,842.6 1252.6,842.4"/><polygon points="1330.4,862.8 1332.8,869.2 1339.5,869.4 1334.2,873.6 1336.0,880.2 1330.4,876.4 1324.8,880.2 1326.6,873.6 1321.3,869.4 1328.0,869.2"/><polygon points="1405.0,882.1 1407.4,888.5 1414.1,888.7 1408.8,892.9 1410.6,899.5 1405.0,895.7 1399.4,899.5 1401.2,892.9 1395.9,888.7 1402.6,888.5"/><polygon points="1480.0,880.0 1482.4,886.4 1489.1,886.6 1483.8,890.8 1485.6,897.4 1480.0,893.6 1474.4,897.4 1476.2,890.8 1470.9,886.6 1477.6,886.4"/><polygon points="1555.8,864.5 1558.2,870.9 1564.9,871.1 1559.6,875.3 1561.4,881.9 1555.8,878.1 1550.2,881.9 1552.0,875.3 1546.7,871.1 1553.4,870.9"/><polygon points="1631.1,887.5 1633.5,893.9 1640.2,894.1 1634.9,898.3 1636.7,904.9 1631.1,901.1 1625.5,904.9 1627.3,898.3 1622.0,894.1 1628.7,893.9"/><polygon points="1705.7,888.5 1708.1,894.9 1714.8,895.1 1709.5,899.3 1711.3,905.9 1705.7,902.1 1700.1,905.9 1701.9,899.3 1696.6,895.1 1703.3,894.9"/></g>
<g shape-rendering="crispEdges">
<g fill="#000"><rect x="223" y="85" width="11" height="4"/><rect x="241" y="85" width="12" height="4"/><rect x="260" y="85" width="11" height="4"/><rect x="278" y="85" width="12" height="4"/><rect x="290" y="85" width="18" height="4"/><rect x="315" y="85" width="12" height="4"/><rect x="334" y="85" width="11" height="4"/></g>
<rect x="282" y="79" width="16" height="16" fill="#000"/>
<g fill="#f00"><rect x="223" y="159" width="11" height="3"/><rect x="241" y="159" width="12" height="3"/><rect x="260" y="159" width="11" height="3"/><rect x="278" y="159" width="12" height="3"/><rect x="290" y="159" width="18" height="3"/><rect x="315" y="159" width="12" height="3"/><rect x="334" y="159" width="11" height="3"/></g>
<circle cx="290.5" cy="160" r="8.8" fill="#f00"/>
<rect x="1417" y="90" width="125" height="3" fill="#f0f"/>
<circle cx="1479" cy="91.3" r="7.4" fill="#fff" stroke="#f0f" stroke-width="2.4"/>
<rect x="1417" y="157" width="125" height="4" fill="#00f"/>
<polygon points="1479.0,149.7 1487.1,162.4 1470.9,162.4" fill="#fff" stroke="#00f" stroke-width="2.4"/>
<rect x="1417" y="225" width="125" height="3" fill="#0f0"/>
<polygon points="1479.0,216.7 1481.4,223.1 1488.1,223.3 1482.8,227.5 1484.6,234.1 1479.0,230.3 1473.4,234.1 1475.2,227.5 1469.9,223.3 1476.6,223.1" fill="#fff" stroke="#0f0" stroke-width="3" stroke-linejoin="bevel"/>
</g>
<g font-family="'Liberation Serif','Times New Roman',serif" font-size="54" fill="#000">
<text x="372" y="107">Y=0 mm</text>
<text x="372" y="180">Y=50 mm</text>
<text x="1554" y="110">Y=100 mm</text>
<text x="1554" y="177">Y=150 mm</text>
<text x="1554" y="245">Y=200 mm</text>
</g>
</svg></body></html>
